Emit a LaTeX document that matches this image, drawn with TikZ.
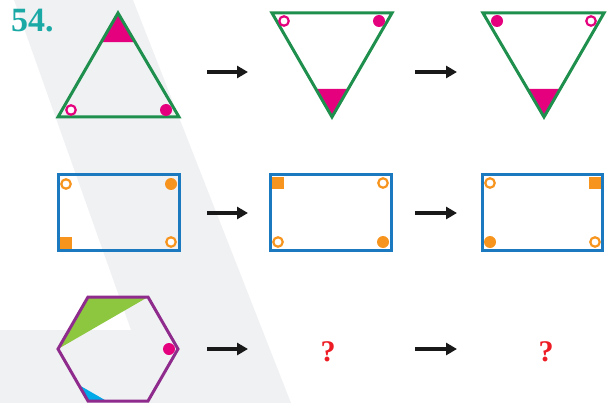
\documentclass[tikz,border=0pt]{standalone}
\usepackage{fontspec}
\setmainfont{Liberation Serif}
\usetikzlibrary{arrows.meta, calc}

\definecolor{shadegray}{HTML}{F0F1F3}
\definecolor{numteal}{HTML}{1BA9A6}
\definecolor{trigreen}{HTML}{1E8F4C}
\definecolor{markpink}{HTML}{E5007D}
\definecolor{boxblue}{HTML}{1B79C0}
\definecolor{markorange}{HTML}{F7941D}
\definecolor{hexpurple}{HTML}{8E2B8C}
\definecolor{wedgegreen}{HTML}{8DC63F}
\definecolor{wedgeblue}{HTML}{00A9E8}
\definecolor{askred}{HTML}{ED1C24}

\begin{document}
\begin{tikzpicture}[
    x=1pt, y=-1pt,
    outline/.style={line width=3pt, line join=miter},
    dot/.style={circle, fill=#1, inner sep=0pt, minimum size=12pt},
    ring/.style={circle, draw=#1, fill=white, line width=2.2pt,
        inner sep=0pt, minimum size=9.5pt},
    sqmark/.style={rectangle, fill=#1, inner sep=0pt, minimum size=12pt},
    step arrow/.style={-{Triangle[length=11pt, width=12pt]},
        line width=3.2pt, black!90},
    ask/.style={text=askred, font=\bfseries\fontsize{30}{30}\selectfont}
]
    \useasboundingbox (0,0) rectangle (609,403);

    % Background band
    \fill[shadegray] (14,0) -- (133,0) -- (291,403) -- (0,403)
        -- (0,330) -- (131,330) -- cycle;

    \node[text=numteal, font=\bfseries\fontsize{34}{34}\selectfont,
        inner sep=0pt, anchor=north west] (num) at (11,9) {54.};

    % Row 1: triangles
    \coordinate (t1a) at (118,13);
    \coordinate (t1l) at (58,117);
    \coordinate (t1r) at (179,117);
    \fill[markpink] (t1a) -- ($(t1a)!0.28!(t1l)$) -- ($(t1a)!0.28!(t1r)$) -- cycle;
    \draw[outline, trigreen] (t1a) -- (t1l) -- (t1r) -- cycle;
    \node[ring=markpink] (t1o) at (71,110) {};
    \node[dot=markpink] (t1f) at (166,110) {};

    \coordinate (t2l) at (272,13);
    \coordinate (t2r) at (392,13);
    \coordinate (t2a) at (332,117);
    \fill[markpink] (t2a) -- ($(t2a)!0.27!(t2l)$) -- ($(t2a)!0.27!(t2r)$) -- cycle;
    \draw[outline, trigreen] (t2l) -- (t2r) -- (t2a) -- cycle;
    \node[ring=markpink] (t2o) at (284,21) {};
    \node[dot=markpink] (t2f) at (379,21) {};

    \coordinate (t3l) at (483,13);
    \coordinate (t3r) at (604,13);
    \coordinate (t3a) at (544,117);
    \fill[markpink] (t3a) -- ($(t3a)!0.27!(t3l)$) -- ($(t3a)!0.27!(t3r)$) -- cycle;
    \draw[outline, trigreen] (t3l) -- (t3r) -- (t3a) -- cycle;
    \node[dot=markpink] (t3f) at (497,21) {};
    \node[ring=markpink] (t3o) at (591,21) {};

    % Row 2: rectangles
    \draw[outline, boxblue] (58,175) rectangle (179,250);
    \node[ring=markorange] (r1a) at (66,184) {};
    \node[dot=markorange] (r1b) at (171,184) {};
    \node[sqmark=markorange] (r1c) at (66,243) {};
    \node[ring=markorange] (r1d) at (171,242) {};

    \draw[outline, boxblue] (270,175) rectangle (391,250);
    \node[sqmark=markorange] (r2a) at (278,183) {};
    \node[ring=markorange] (r2b) at (383,183) {};
    \node[ring=markorange] (r2c) at (278,242) {};
    \node[dot=markorange] (r2d) at (383,242) {};

    \draw[outline, boxblue] (482,175) rectangle (602,250);
    \node[ring=markorange] (r3a) at (490,183) {};
    \node[sqmark=markorange] (r3b) at (595,183) {};
    \node[dot=markorange] (r3c) at (490,242) {};
    \node[ring=markorange] (r3d) at (595,242) {};

    % Row 3: hexagon
    \coordinate (h1) at (88,297);
    \coordinate (h2) at (148,297);
    \coordinate (h3) at (178,349);
    \coordinate (h4) at (148,401);
    \coordinate (h5) at (88,401);
    \coordinate (h6) at (58,349);
    \fill[wedgegreen] (h1) -- (h2) -- (h6) -- cycle;
    \fill[wedgeblue] (h5) -- ($(h5)!0.31!(h6)$) -- ($(h5)!0.31!(h4)$) -- cycle;
    \draw[outline, hexpurple] (h1) -- (h2) -- (h3) -- (h4) -- (h5) -- (h6) -- cycle;
    \node[dot=markpink] (hf) at (169,349) {};

    \node[ask] (q1) at (328,352) {?};
    \node[ask] (q2) at (546,352) {?};

    % Arrows
    \foreach \row/\yy in {1/72, 2/213, 3/349} {
        \coordinate (a\row s) at (207,\yy);
        \coordinate (a\row e) at (248,\yy);
        \coordinate (b\row s) at (415,\yy);
        \coordinate (b\row e) at (457,\yy);
        \draw[step arrow] (a\row s) -- (a\row e);
        \draw[step arrow] (b\row s) -- (b\row e);
    }

\end{tikzpicture}
\end{document}
